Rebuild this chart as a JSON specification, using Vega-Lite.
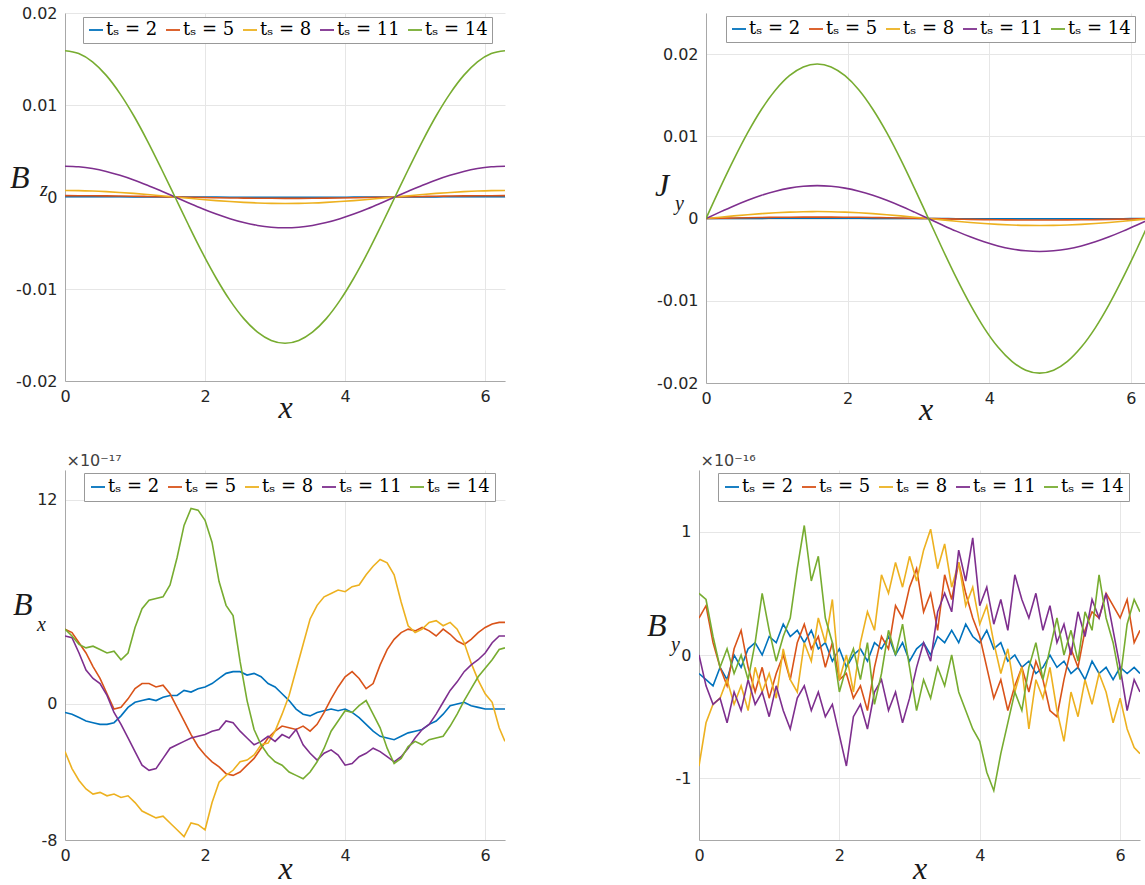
{
  "$schema": "https://vega.github.io/schema/vega-lite/v6.json",
  "background": "white",
  "padding": {"left": 10, "top": 5, "right": 0, "bottom": 0},
  "bounds": "flush",
  "spacing": 457,
  "resolve": {"scale": {"color": "independent"}, "legend": {"color": "independent"}},
  "datasets": {
    "bz": [
      {"x": 0, "t2": 0.00003, "t5": 0.000147, "t8": 0.0007, "t11": 0.00334, "t14": 0.0159},
      {"x": 0.196, "t2": 0.00003, "t5": 0.000144, "t8": 0.00069, "t11": 0.00328, "t14": 0.01559},
      {"x": 0.393, "t2": 0.000028, "t5": 0.000136, "t8": 0.00065, "t11": 0.00309, "t14": 0.01469},
      {"x": 0.589, "t2": 0.000025, "t5": 0.000122, "t8": 0.00058, "t11": 0.00278, "t14": 0.01322},
      {"x": 0.785, "t2": 0.000021, "t5": 0.000104, "t8": 0.00049, "t11": 0.00236, "t14": 0.01124},
      {"x": 0.982, "t2": 0.000017, "t5": 0.000082, "t8": 0.00039, "t11": 0.00186, "t14": 0.00883},
      {"x": 1.178, "t2": 0.000012, "t5": 0.000056, "t8": 0.00027, "t11": 0.00128, "t14": 0.00608},
      {"x": 1.374, "t2": 0.000006, "t5": 0.000029, "t8": 0.00014, "t11": 0.00065, "t14": 0.0031},
      {"x": 1.571, "t2": 0, "t5": 0, "t8": 0, "t11": 0, "t14": 0},
      {"x": 1.767, "t2": -0.000006, "t5": -0.000029, "t8": -0.00014, "t11": -0.00065, "t14": -0.0031},
      {"x": 1.963, "t2": -0.000012, "t5": -0.000056, "t8": -0.00027, "t11": -0.00128, "t14": -0.00608},
      {"x": 2.16, "t2": -0.000017, "t5": -0.000082, "t8": -0.00039, "t11": -0.00186, "t14": -0.00883},
      {"x": 2.356, "t2": -0.000021, "t5": -0.000104, "t8": -0.00049, "t11": -0.00236, "t14": -0.01124},
      {"x": 2.553, "t2": -0.000025, "t5": -0.000122, "t8": -0.00058, "t11": -0.00278, "t14": -0.01322},
      {"x": 2.749, "t2": -0.000028, "t5": -0.000136, "t8": -0.00065, "t11": -0.00309, "t14": -0.01469},
      {"x": 2.945, "t2": -0.00003, "t5": -0.000144, "t8": -0.00069, "t11": -0.00328, "t14": -0.01559},
      {"x": 3.142, "t2": -0.00003, "t5": -0.000147, "t8": -0.0007, "t11": -0.00334, "t14": -0.0159},
      {"x": 3.338, "t2": -0.00003, "t5": -0.000144, "t8": -0.00069, "t11": -0.00328, "t14": -0.01559},
      {"x": 3.534, "t2": -0.000028, "t5": -0.000136, "t8": -0.00065, "t11": -0.00309, "t14": -0.01469},
      {"x": 3.731, "t2": -0.000025, "t5": -0.000122, "t8": -0.00058, "t11": -0.00278, "t14": -0.01322},
      {"x": 3.927, "t2": -0.000021, "t5": -0.000104, "t8": -0.00049, "t11": -0.00236, "t14": -0.01124},
      {"x": 4.123, "t2": -0.000017, "t5": -0.000082, "t8": -0.00039, "t11": -0.00186, "t14": -0.00883},
      {"x": 4.32, "t2": -0.000012, "t5": -0.000056, "t8": -0.00027, "t11": -0.00128, "t14": -0.00608},
      {"x": 4.516, "t2": -0.000006, "t5": -0.000029, "t8": -0.00014, "t11": -0.00065, "t14": -0.0031},
      {"x": 4.712, "t2": 0, "t5": 0, "t8": 0, "t11": 0, "t14": 0},
      {"x": 4.909, "t2": 0.000006, "t5": 0.000029, "t8": 0.00014, "t11": 0.00065, "t14": 0.0031},
      {"x": 5.105, "t2": 0.000012, "t5": 0.000056, "t8": 0.00027, "t11": 0.00128, "t14": 0.00608},
      {"x": 5.301, "t2": 0.000017, "t5": 0.000082, "t8": 0.00039, "t11": 0.00186, "t14": 0.00883},
      {"x": 5.498, "t2": 0.000021, "t5": 0.000104, "t8": 0.00049, "t11": 0.00236, "t14": 0.01124},
      {"x": 5.694, "t2": 0.000025, "t5": 0.000122, "t8": 0.00058, "t11": 0.00278, "t14": 0.01322},
      {"x": 5.89, "t2": 0.000028, "t5": 0.000136, "t8": 0.00065, "t11": 0.00309, "t14": 0.01469},
      {"x": 6.087, "t2": 0.00003, "t5": 0.000144, "t8": 0.00069, "t11": 0.00328, "t14": 0.01559},
      {"x": 6.283, "t2": 0.00003, "t5": 0.000147, "t8": 0.0007, "t11": 0.00334, "t14": 0.0159}
    ],
    "jy": [
      {"x": 0, "t2": 0, "t5": 0, "t8": 0, "t11": 0, "t14": 0},
      {"x": 0.196, "t2": 0.0000074, "t5": 0.000035, "t8": 0.000166, "t11": 0.00078, "t14": 0.00367},
      {"x": 0.393, "t2": 0.0000145, "t5": 0.000069, "t8": 0.000325, "t11": 0.00153, "t14": 0.00719},
      {"x": 0.589, "t2": 0.0000211, "t5": 0.0001, "t8": 0.000472, "t11": 0.00222, "t14": 0.01044},
      {"x": 0.785, "t2": 0.0000269, "t5": 0.000127, "t8": 0.000601, "t11": 0.00283, "t14": 0.01329},
      {"x": 0.982, "t2": 0.0000316, "t5": 0.00015, "t8": 0.000707, "t11": 0.00333, "t14": 0.01563},
      {"x": 1.178, "t2": 0.0000351, "t5": 0.000166, "t8": 0.000785, "t11": 0.0037, "t14": 0.01737},
      {"x": 1.374, "t2": 0.0000373, "t5": 0.000177, "t8": 0.000834, "t11": 0.00392, "t14": 0.01844},
      {"x": 1.571, "t2": 0.000038, "t5": 0.00018, "t8": 0.00085, "t11": 0.004, "t14": 0.0188},
      {"x": 1.767, "t2": 0.0000373, "t5": 0.000177, "t8": 0.000834, "t11": 0.00392, "t14": 0.01844},
      {"x": 1.963, "t2": 0.0000351, "t5": 0.000166, "t8": 0.000785, "t11": 0.0037, "t14": 0.01737},
      {"x": 2.16, "t2": 0.0000316, "t5": 0.00015, "t8": 0.000707, "t11": 0.00333, "t14": 0.01563},
      {"x": 2.356, "t2": 0.0000269, "t5": 0.000127, "t8": 0.000601, "t11": 0.00283, "t14": 0.01329},
      {"x": 2.553, "t2": 0.0000211, "t5": 0.0001, "t8": 0.000472, "t11": 0.00222, "t14": 0.01044},
      {"x": 2.749, "t2": 0.0000145, "t5": 0.000069, "t8": 0.000325, "t11": 0.00153, "t14": 0.00719},
      {"x": 2.945, "t2": 0.0000074, "t5": 0.000035, "t8": 0.000166, "t11": 0.00078, "t14": 0.00367},
      {"x": 3.142, "t2": 0, "t5": 0, "t8": 0, "t11": 0, "t14": 0},
      {"x": 3.338, "t2": -0.0000074, "t5": -0.000035, "t8": -0.000166, "t11": -0.00078, "t14": -0.00367},
      {"x": 3.534, "t2": -0.0000145, "t5": -0.000069, "t8": -0.000325, "t11": -0.00153, "t14": -0.00719},
      {"x": 3.731, "t2": -0.0000211, "t5": -0.0001, "t8": -0.000472, "t11": -0.00222, "t14": -0.01044},
      {"x": 3.927, "t2": -0.0000269, "t5": -0.000127, "t8": -0.000601, "t11": -0.00283, "t14": -0.01329},
      {"x": 4.123, "t2": -0.0000316, "t5": -0.00015, "t8": -0.000707, "t11": -0.00333, "t14": -0.01563},
      {"x": 4.32, "t2": -0.0000351, "t5": -0.000166, "t8": -0.000785, "t11": -0.0037, "t14": -0.01737},
      {"x": 4.516, "t2": -0.0000373, "t5": -0.000177, "t8": -0.000834, "t11": -0.00392, "t14": -0.01844},
      {"x": 4.712, "t2": -0.000038, "t5": -0.00018, "t8": -0.00085, "t11": -0.004, "t14": -0.0188},
      {"x": 4.909, "t2": -0.0000373, "t5": -0.000177, "t8": -0.000834, "t11": -0.00392, "t14": -0.01844},
      {"x": 5.105, "t2": -0.0000351, "t5": -0.000166, "t8": -0.000785, "t11": -0.0037, "t14": -0.01737},
      {"x": 5.301, "t2": -0.0000316, "t5": -0.00015, "t8": -0.000707, "t11": -0.00333, "t14": -0.01563},
      {"x": 5.498, "t2": -0.0000269, "t5": -0.000127, "t8": -0.000601, "t11": -0.00283, "t14": -0.01329},
      {"x": 5.694, "t2": -0.0000211, "t5": -0.0001, "t8": -0.000472, "t11": -0.00222, "t14": -0.01044},
      {"x": 5.89, "t2": -0.0000145, "t5": -0.000069, "t8": -0.000325, "t11": -0.00153, "t14": -0.00719},
      {"x": 6.087, "t2": -0.0000074, "t5": -0.000035, "t8": -0.000166, "t11": -0.00078, "t14": -0.00367},
      {"x": 6.283, "t2": 0, "t5": 0, "t8": 0, "t11": 0, "t14": 0}
    ],
    "bx": [
      {"x": 0.0, "t2": -0.5, "t5": 4.4, "t8": -2.8, "t11": 4.0, "t14": 4.4},
      {"x": 0.1, "t2": -0.6, "t5": 4.2, "t8": -3.8, "t11": 3.9, "t14": 4.0},
      {"x": 0.2, "t2": -0.8, "t5": 3.6, "t8": -4.5, "t11": 3.0, "t14": 3.5},
      {"x": 0.3, "t2": -1.0, "t5": 3.0, "t8": -5.0, "t11": 2.0, "t14": 3.3},
      {"x": 0.4, "t2": -1.1, "t5": 2.2, "t8": -5.3, "t11": 1.5, "t14": 3.4},
      {"x": 0.5, "t2": -1.2, "t5": 1.5, "t8": -5.2, "t11": 1.2, "t14": 3.2},
      {"x": 0.6, "t2": -1.2, "t5": 0.6, "t8": -5.4, "t11": 0.5, "t14": 3.0},
      {"x": 0.7, "t2": -1.1, "t5": -0.3, "t8": -5.3, "t11": -0.5, "t14": 3.1},
      {"x": 0.8, "t2": -0.7, "t5": -0.2, "t8": -5.5, "t11": -1.2, "t14": 2.6},
      {"x": 0.9, "t2": -0.2, "t5": 0.3, "t8": -5.4, "t11": -2.0, "t14": 3.0},
      {"x": 1.0, "t2": 0.1, "t5": 0.9, "t8": -5.8, "t11": -2.8, "t14": 4.5},
      {"x": 1.1, "t2": 0.2, "t5": 1.2, "t8": -6.3, "t11": -3.6, "t14": 5.6},
      {"x": 1.2, "t2": 0.3, "t5": 1.2, "t8": -6.5, "t11": -3.9, "t14": 6.1},
      {"x": 1.3, "t2": 0.2, "t5": 1.0, "t8": -6.7, "t11": -3.8, "t14": 6.2},
      {"x": 1.4, "t2": 0.4, "t5": 1.1, "t8": -6.6, "t11": -3.2, "t14": 6.3},
      {"x": 1.5, "t2": 0.5, "t5": 0.6, "t8": -7.0, "t11": -2.6, "t14": 7.0},
      {"x": 1.6, "t2": 0.5, "t5": -0.2, "t8": -7.4, "t11": -2.4, "t14": 8.6},
      {"x": 1.7, "t2": 0.8, "t5": -1.0, "t8": -7.8, "t11": -2.2, "t14": 10.5},
      {"x": 1.8, "t2": 0.7, "t5": -1.8, "t8": -7.0, "t11": -2.0, "t14": 11.5},
      {"x": 1.9, "t2": 0.9, "t5": -2.5, "t8": -7.1, "t11": -1.9, "t14": 11.4},
      {"x": 2.0, "t2": 1.0, "t5": -3.0, "t8": -7.4, "t11": -1.8, "t14": 10.8},
      {"x": 2.1, "t2": 1.2, "t5": -3.4, "t8": -5.8, "t11": -1.6, "t14": 9.5},
      {"x": 2.2, "t2": 1.5, "t5": -3.7, "t8": -4.6, "t11": -1.5, "t14": 7.2},
      {"x": 2.3, "t2": 1.8, "t5": -4.1, "t8": -4.2, "t11": -1.0, "t14": 5.8},
      {"x": 2.4, "t2": 1.9, "t5": -4.2, "t8": -3.9, "t11": -1.1, "t14": 5.2},
      {"x": 2.5, "t2": 1.9, "t5": -4.0, "t8": -3.4, "t11": -1.6, "t14": 2.5},
      {"x": 2.6, "t2": 1.7, "t5": -3.6, "t8": -3.3, "t11": -2.0, "t14": 0.2},
      {"x": 2.7, "t2": 1.8, "t5": -3.2, "t8": -3.0, "t11": -2.4, "t14": -1.5},
      {"x": 2.8, "t2": 1.6, "t5": -2.6, "t8": -2.4, "t11": -2.2, "t14": -2.4},
      {"x": 2.9, "t2": 1.2, "t5": -2.0, "t8": -2.3, "t11": -1.9, "t14": -3.0},
      {"x": 3.0, "t2": 1.0, "t5": -1.6, "t8": -1.6, "t11": -2.2, "t14": -3.4},
      {"x": 3.1, "t2": 0.6, "t5": -1.3, "t8": -0.6, "t11": -1.8, "t14": -3.6},
      {"x": 3.2, "t2": 0.2, "t5": -1.4, "t8": 0.5, "t11": -2.0, "t14": -4.0},
      {"x": 3.3, "t2": -0.3, "t5": -1.5, "t8": 2.0, "t11": -1.5, "t14": -4.2},
      {"x": 3.4, "t2": -0.6, "t5": -1.3, "t8": 3.5, "t11": -2.4, "t14": -4.4},
      {"x": 3.5, "t2": -0.7, "t5": -1.6, "t8": 5.0, "t11": -2.9, "t14": -4.0},
      {"x": 3.6, "t2": -0.5, "t5": -1.2, "t8": 5.8, "t11": -3.3, "t14": -3.4},
      {"x": 3.7, "t2": -0.4, "t5": -0.5, "t8": 6.3, "t11": -2.9, "t14": -2.6},
      {"x": 3.8, "t2": -0.3, "t5": 0.3, "t8": 6.5, "t11": -2.7, "t14": -1.6},
      {"x": 3.9, "t2": -0.4, "t5": 1.0, "t8": 6.7, "t11": -3.0, "t14": -1.0},
      {"x": 4.0, "t2": -0.3, "t5": 1.6, "t8": 6.6, "t11": -3.6, "t14": -0.4},
      {"x": 4.1, "t2": -0.5, "t5": 1.9, "t8": 6.9, "t11": -3.5, "t14": -0.5},
      {"x": 4.2, "t2": -0.8, "t5": 1.5, "t8": 7.0, "t11": -3.1, "t14": -0.1},
      {"x": 4.3, "t2": -1.2, "t5": 0.9, "t8": 7.6, "t11": -2.9, "t14": 0.2},
      {"x": 4.4, "t2": -1.6, "t5": 1.2, "t8": 8.1, "t11": -2.6, "t14": -0.6},
      {"x": 4.5, "t2": -1.9, "t5": 2.3, "t8": 8.5, "t11": -2.8, "t14": -1.4},
      {"x": 4.6, "t2": -2.0, "t5": 3.2, "t8": 8.3, "t11": -3.1, "t14": -2.6},
      {"x": 4.7, "t2": -2.1, "t5": 3.8, "t8": 7.6, "t11": -3.4, "t14": -3.5},
      {"x": 4.8, "t2": -1.9, "t5": 4.2, "t8": 6.0, "t11": -3.1, "t14": -3.2},
      {"x": 4.9, "t2": -1.7, "t5": 4.4, "t8": 4.6, "t11": -2.6, "t14": -2.5},
      {"x": 5.0, "t2": -1.6, "t5": 4.3, "t8": 4.2, "t11": -2.0, "t14": -2.2},
      {"x": 5.1, "t2": -1.5, "t5": 4.5, "t8": 4.4, "t11": -1.5, "t14": -2.4},
      {"x": 5.2, "t2": -1.2, "t5": 4.3, "t8": 4.8, "t11": -1.2, "t14": -2.1},
      {"x": 5.3, "t2": -1.0, "t5": 4.0, "t8": 4.9, "t11": -0.6, "t14": -2.0},
      {"x": 5.4, "t2": -0.6, "t5": 4.4, "t8": 4.6, "t11": 0.1, "t14": -1.9},
      {"x": 5.5, "t2": -0.1, "t5": 4.1, "t8": 4.8, "t11": 0.8, "t14": -1.3},
      {"x": 5.6, "t2": 0.0, "t5": 3.7, "t8": 4.4, "t11": 1.3, "t14": -0.6},
      {"x": 5.7, "t2": 0.1, "t5": 3.5, "t8": 3.6, "t11": 1.9, "t14": 0.2},
      {"x": 5.8, "t2": -0.1, "t5": 3.8, "t8": 2.4, "t11": 2.3, "t14": 0.9},
      {"x": 5.9, "t2": -0.2, "t5": 4.2, "t8": 1.4, "t11": 2.6, "t14": 1.6},
      {"x": 6.0, "t2": -0.3, "t5": 4.5, "t8": 0.6, "t11": 3.0, "t14": 2.1},
      {"x": 6.1, "t2": -0.3, "t5": 4.7, "t8": 0.1, "t11": 3.6, "t14": 2.6},
      {"x": 6.2, "t2": -0.3, "t5": 4.8, "t8": -1.4, "t11": 4.0, "t14": 3.2},
      {"x": 6.283, "t2": -0.3, "t5": 4.8, "t8": -2.2, "t11": 4.0, "t14": 3.3}
    ],
    "by": [
      {"x": 0.0, "t2": -0.15, "t5": 0.3, "t8": -0.9, "t11": 0.0, "t14": 0.5},
      {"x": 0.1, "t2": -0.2, "t5": 0.4, "t8": -0.55, "t11": -0.25, "t14": 0.45},
      {"x": 0.2, "t2": -0.25, "t5": 0.1, "t8": -0.4, "t11": -0.4, "t14": 0.15},
      {"x": 0.3, "t2": -0.1, "t5": -0.1, "t8": -0.35, "t11": -0.35, "t14": -0.1},
      {"x": 0.4, "t2": -0.2, "t5": -0.25, "t8": -0.2, "t11": -0.55, "t14": 0.05},
      {"x": 0.5, "t2": 0.0, "t5": 0.05, "t8": -0.4, "t11": -0.3, "t14": -0.15},
      {"x": 0.6, "t2": -0.1, "t5": 0.2, "t8": -0.25, "t11": -0.45, "t14": 0.0},
      {"x": 0.7, "t2": 0.05, "t5": -0.1, "t8": -0.45, "t11": -0.2, "t14": -0.2},
      {"x": 0.8, "t2": 0.1, "t5": -0.3, "t8": -0.1, "t11": -0.4, "t14": 0.1},
      {"x": 0.9, "t2": 0.0, "t5": -0.1, "t8": -0.3, "t11": -0.3, "t14": 0.5},
      {"x": 1.0, "t2": 0.15, "t5": -0.35, "t8": -0.15, "t11": -0.5, "t14": 0.2},
      {"x": 1.1, "t2": 0.1, "t5": -0.15, "t8": -0.35, "t11": -0.25, "t14": -0.05},
      {"x": 1.2, "t2": 0.25, "t5": 0.0, "t8": 0.05, "t11": -0.45, "t14": 0.15},
      {"x": 1.3, "t2": 0.15, "t5": -0.2, "t8": -0.2, "t11": -0.6, "t14": 0.3},
      {"x": 1.4, "t2": 0.2, "t5": 0.1, "t8": -0.3, "t11": -0.35, "t14": 0.7},
      {"x": 1.5, "t2": 0.1, "t5": 0.25, "t8": 0.1, "t11": -0.25, "t14": 1.05},
      {"x": 1.6, "t2": 0.2, "t5": 0.05, "t8": -0.05, "t11": -0.45, "t14": 0.6},
      {"x": 1.7, "t2": 0.05, "t5": 0.15, "t8": 0.3, "t11": -0.3, "t14": 0.8},
      {"x": 1.8, "t2": 0.1, "t5": -0.1, "t8": 0.1, "t11": -0.5, "t14": 0.3},
      {"x": 1.9, "t2": -0.05, "t5": 0.1, "t8": 0.45, "t11": -0.4, "t14": 0.1},
      {"x": 2.0, "t2": 0.05, "t5": -0.2, "t8": -0.2, "t11": -0.65, "t14": -0.3},
      {"x": 2.1, "t2": -0.1, "t5": -0.15, "t8": 0.0, "t11": -0.9, "t14": -0.1},
      {"x": 2.2, "t2": 0.0, "t5": -0.35, "t8": -0.3, "t11": -0.5, "t14": 0.05},
      {"x": 2.3, "t2": 0.05, "t5": -0.25, "t8": 0.1, "t11": -0.4, "t14": -0.2},
      {"x": 2.4, "t2": -0.05, "t5": -0.45, "t8": 0.35, "t11": -0.6, "t14": 0.1},
      {"x": 2.5, "t2": 0.1, "t5": -0.1, "t8": 0.2, "t11": -0.3, "t14": -0.4},
      {"x": 2.6, "t2": 0.05, "t5": 0.15, "t8": 0.65, "t11": -0.2, "t14": -0.15},
      {"x": 2.7, "t2": 0.15, "t5": 0.05, "t8": 0.5, "t11": -0.45, "t14": 0.2},
      {"x": 2.8, "t2": 0.0, "t5": 0.4, "t8": 0.75, "t11": -0.3, "t14": 0.0},
      {"x": 2.9, "t2": 0.1, "t5": 0.3, "t8": 0.55, "t11": -0.55, "t14": 0.25},
      {"x": 3.0, "t2": -0.05, "t5": 0.55, "t8": 0.8, "t11": -0.35, "t14": -0.1},
      {"x": 3.1, "t2": 0.05, "t5": 0.7, "t8": 0.6, "t11": -0.1, "t14": -0.45},
      {"x": 3.2, "t2": 0.1, "t5": 0.35, "t8": 0.85, "t11": 0.1, "t14": -0.2},
      {"x": 3.3, "t2": 0.0, "t5": 0.5, "t8": 1.02, "t11": -0.05, "t14": -0.35},
      {"x": 3.4, "t2": 0.15, "t5": 0.2, "t8": 0.7, "t11": 0.35, "t14": -0.1},
      {"x": 3.5, "t2": 0.1, "t5": 0.65, "t8": 0.9, "t11": 0.5, "t14": -0.25},
      {"x": 3.6, "t2": 0.2, "t5": 0.45, "t8": 0.55, "t11": 0.35, "t14": 0.0},
      {"x": 3.7, "t2": 0.1, "t5": 0.75, "t8": 0.75, "t11": 0.85, "t14": -0.3},
      {"x": 3.8, "t2": 0.25, "t5": 0.5, "t8": 0.4, "t11": 0.6, "t14": -0.45},
      {"x": 3.9, "t2": 0.15, "t5": 0.3, "t8": 0.55, "t11": 0.95, "t14": -0.6},
      {"x": 4.0, "t2": 0.1, "t5": 0.15, "t8": 0.25, "t11": 0.4, "t14": -0.7},
      {"x": 4.1, "t2": 0.2, "t5": -0.1, "t8": 0.4, "t11": 0.55, "t14": -0.95},
      {"x": 4.2, "t2": 0.05, "t5": -0.35, "t8": 0.1, "t11": 0.25, "t14": -1.1},
      {"x": 4.3, "t2": 0.1, "t5": -0.2, "t8": -0.15, "t11": 0.45, "t14": -0.8},
      {"x": 4.4, "t2": -0.05, "t5": -0.45, "t8": 0.05, "t11": 0.2, "t14": -0.55},
      {"x": 4.5, "t2": 0.0, "t5": -0.25, "t8": -0.3, "t11": 0.65, "t14": -0.3},
      {"x": 4.6, "t2": -0.1, "t5": -0.1, "t8": -0.1, "t11": 0.45, "t14": -0.45},
      {"x": 4.7, "t2": -0.05, "t5": -0.3, "t8": -0.6, "t11": 0.3, "t14": -0.1},
      {"x": 4.8, "t2": -0.15, "t5": -0.05, "t8": -0.2, "t11": 0.5, "t14": 0.1},
      {"x": 4.9, "t2": -0.1, "t5": -0.2, "t8": -0.35, "t11": 0.2, "t14": -0.2},
      {"x": 5.0, "t2": 0.0, "t5": -0.45, "t8": -0.1, "t11": 0.4, "t14": 0.05},
      {"x": 5.1, "t2": -0.1, "t5": -0.5, "t8": -0.45, "t11": 0.1, "t14": 0.3},
      {"x": 5.2, "t2": -0.05, "t5": -0.2, "t8": -0.7, "t11": 0.25, "t14": 0.0},
      {"x": 5.3, "t2": -0.15, "t5": 0.05, "t8": -0.3, "t11": 0.0, "t14": 0.2},
      {"x": 5.4, "t2": -0.1, "t5": -0.1, "t8": -0.5, "t11": 0.35, "t14": -0.05},
      {"x": 5.5, "t2": -0.2, "t5": 0.2, "t8": -0.2, "t11": 0.15, "t14": 0.35},
      {"x": 5.6, "t2": -0.05, "t5": 0.35, "t8": -0.4, "t11": 0.45, "t14": 0.2},
      {"x": 5.7, "t2": -0.15, "t5": 0.3, "t8": -0.15, "t11": 0.3, "t14": 0.65},
      {"x": 5.8, "t2": -0.1, "t5": 0.5, "t8": -0.3, "t11": 0.5, "t14": 0.3},
      {"x": 5.9, "t2": -0.2, "t5": 0.4, "t8": -0.55, "t11": 0.2, "t14": 0.1},
      {"x": 6.0, "t2": -0.1, "t5": 0.3, "t8": -0.35, "t11": -0.1, "t14": -0.2},
      {"x": 6.1, "t2": -0.15, "t5": 0.45, "t8": -0.6, "t11": -0.45, "t14": 0.25},
      {"x": 6.2, "t2": -0.1, "t5": 0.1, "t8": -0.75, "t11": -0.2, "t14": 0.45},
      {"x": 6.283, "t2": -0.15, "t5": 0.2, "t8": -0.8, "t11": -0.3, "t14": 0.35}
    ]
  },
  "vconcat": [
    {
      "bounds": "flush",
      "spacing": 201,
      "resolve": {"scale": {"color": "independent"}, "legend": {"color": "independent"}},
      "hconcat": [
        {
          "width": 440,
          "height": 368,
          "data": {"name": "bz"},
          "transform": [{"fold": ["t2", "t5", "t8", "t11", "t14"], "as": ["ts", "v"]}],
          "title": {"text": "B", "subtitle": "\u200b\u2003\u2002z", "dx": -55, "dy": 200, "subtitlePadding": -15},
          "mark": {"type": "line", "strokeWidth": 1.6, "interpolate": "monotone", "clip": true},
          "encoding": {
            "x": {"field": "x", "type": "quantitative", "scale": {"domain": [0, 6.2832], "nice": false, "zero": false},
                  "axis": {"values": [0, 2, 4, 6], "format": "d", "title": "x", "titleY": 11}},
            "y": {"field": "v", "type": "quantitative", "scale": {"domain": [-0.02, 0.02], "nice": false, "zero": false},
                  "axis": {"values": [-0.02, -0.01, 0, 0.01, 0.02], "format": ".2~f", "title": null}},
            "color": {"field": "ts", "type": "nominal",
                      "scale": {"domain": ["t2", "t5", "t8", "t11", "t14"], "range": ["#0072BD", "#D95319", "#EDB120", "#7E2F8E", "#77AC30"]},
                      "legend": {"legendX": 18, "legendY": 4, "labelExpr": "'t\u209b = ' + slice(datum.label, 1)"}}
          }
        },
        {
          "width": 439,
          "height": 370,
          "data": {"name": "jy"},
          "transform": [{"fold": ["t2", "t5", "t8", "t11", "t14"], "as": ["ts", "v"]}],
          "title": {"text": "J", "subtitle": "\u200b\u2003y", "dx": -51, "dy": 206, "subtitlePadding": -9},
          "mark": {"type": "line", "strokeWidth": 1.6, "interpolate": "monotone", "clip": true},
          "encoding": {
            "x": {"field": "x", "type": "quantitative", "scale": {"domain": [0, 6.2], "nice": false, "zero": false},
                  "axis": {"values": [0, 2, 4, 6], "format": "d", "title": "x", "titleY": 11}},
            "y": {"field": "v", "type": "quantitative", "scale": {"domain": [-0.02, 0.025], "nice": false, "zero": false},
                  "axis": {"values": [-0.02, -0.01, 0, 0.01, 0.02], "format": ".2~f", "title": null}},
            "color": {"field": "ts", "type": "nominal",
                      "scale": {"domain": ["t2", "t5", "t8", "t11", "t14"], "range": ["#0072BD", "#D95319", "#EDB120", "#7E2F8E", "#77AC30"]},
                      "legend": {"legendX": 20, "legendY": 3, "labelExpr": "'t\u209b = ' + slice(datum.label, 1)"}}
          }
        }
      ]
    },
    {
      "bounds": "flush",
      "spacing": 194,
      "resolve": {"scale": {"color": "independent"}, "legend": {"color": "independent"}},
      "hconcat": [
        {
          "width": 440,
          "height": 370,
          "data": {"name": "bx"},
          "transform": [{"fold": ["t2", "t5", "t8", "t11", "t14"], "as": ["ts", "v"]}],
          "title": {"text": "B", "subtitle": "\u200b\u2003\u2009x", "dx": -52, "dy": 188, "subtitlePadding": -7},
          "mark": {"type": "line", "strokeWidth": 1.6, "clip": true},
          "encoding": {
            "x": {"field": "x", "type": "quantitative", "scale": {"domain": [0, 6.2832], "nice": false, "zero": false},
                  "axis": {"values": [0, 2, 4, 6], "format": "d", "title": "x", "titleY": 13}},
            "y": {"field": "v", "type": "quantitative", "scale": {"domain": [-8, 13.76], "nice": false, "zero": false},
                  "axis": {"values": [-8, 0, 12], "format": "d", "title": "\u00d710\u207b\u00b9\u2077",
                           "titleX": 1, "titleY": -2, "titleAngle": 0, "titleAlign": "left", "titleBaseline": "bottom",
                           "titleFont": "DejaVu Sans", "titleFontSize": 16, "titleFontStyle": "normal", "titleColor": "#404040"}},
            "color": {"field": "ts", "type": "nominal",
                      "scale": {"domain": ["t2", "t5", "t8", "t11", "t14"], "range": ["#0072BD", "#D95319", "#EDB120", "#7E2F8E", "#77AC30"]},
                      "legend": {"legendX": 19, "legendY": 3, "padding": 5, "labelExpr": "'t\u209b = ' + slice(datum.label, 1)"}}
          }
        },
        {
          "width": 441,
          "height": 370,
          "data": {"name": "by"},
          "transform": [{"fold": ["t2", "t5", "t8", "t11", "t14"], "as": ["ts", "v"]}],
          "title": {"text": "B", "subtitle": "\u200b\u2003\u2009y", "dx": -52, "dy": 208, "subtitlePadding": -8},
          "mark": {"type": "line", "strokeWidth": 1.6, "clip": true},
          "encoding": {
            "x": {"field": "x", "type": "quantitative", "scale": {"domain": [0, 6.2832], "nice": false, "zero": false},
                  "axis": {"values": [0, 2, 4, 6], "format": "d", "title": "x", "titleY": 13}},
            "y": {"field": "v", "type": "quantitative", "scale": {"domain": [-1.5, 1.5], "nice": false, "zero": false},
                  "axis": {"values": [-1, 0, 1], "format": "d", "title": "\u00d710\u207b\u00b9\u2076",
                           "titleX": 1, "titleY": -2, "titleAngle": 0, "titleAlign": "left", "titleBaseline": "bottom",
                           "titleFont": "DejaVu Sans", "titleFontSize": 16, "titleFontStyle": "normal", "titleColor": "#404040"}},
            "color": {"field": "ts", "type": "nominal",
                      "scale": {"domain": ["t2", "t5", "t8", "t11", "t14"], "range": ["#0072BD", "#D95319", "#EDB120", "#7E2F8E", "#77AC30"]},
                      "legend": {"legendX": 19, "legendY": 3, "padding": 5, "labelExpr": "'t\u209b = ' + slice(datum.label, 1)"}}
          }
        }
      ]
    }
  ],
  "config": {
    "view": {"stroke": null},
    "axis": {
      "grid": true, "gridColor": "#e6e6e6", "gridWidth": 1,
      "domainColor": "#a8a8a8", "domainWidth": 1,
      "ticks": false,
      "labelFont": "DejaVu Sans", "labelFontSize": 16, "labelColor": "#262626",
      "labelPadding": 7, "labelFlush": false, "labelOverlap": false,
      "titleFont": "Liberation Serif", "titleFontSize": 32, "titleFontStyle": "italic", "titleFontWeight": "normal", "titleColor": "#1a1a1a"
    },
    "axisX": {"titleBaseline": "top"},
    "axisY": {"labelPadding": 8, "labelExpr": "replace(datum.label, '\u2212', '-')"},
    "legend": {
      "orient": "none", "direction": "horizontal", "title": null,
      "symbolType": "stroke", "symbolSize": 196, "symbolStrokeWidth": 1.8,
      "labelFont": "DejaVu Serif", "labelFontSize": 18, "labelColor": "#000000", "labelOffset": 1, "labelLimit": 0,
      "columnPadding": 4, "padding": 4,
      "strokeColor": "#999999", "fillColor": "white"
    },
    "title": {
      "orient": "top", "anchor": "start", "frame": "group", "offset": 0, "baseline": "top",
      "font": "Liberation Serif", "fontSize": 32, "fontStyle": "italic", "fontWeight": "normal", "color": "#1a1a1a",
      "subtitleFont": "Liberation Serif", "subtitleFontSize": 20, "subtitleFontStyle": "italic", "subtitleColor": "#1a1a1a",
      "subtitlePadding": -15
    }
  }
}
